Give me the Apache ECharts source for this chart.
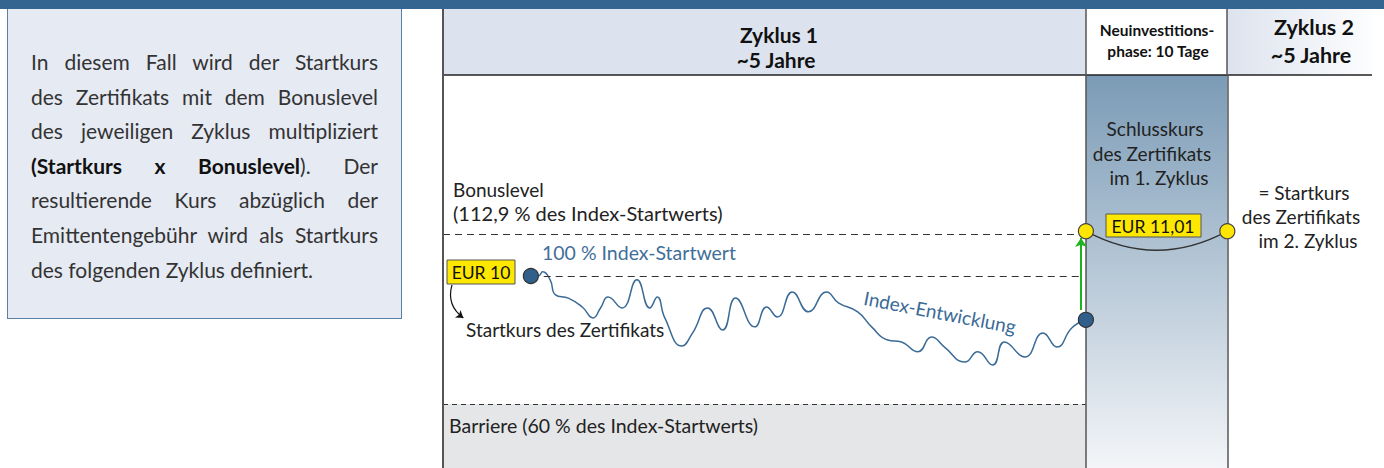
<!DOCTYPE html>
<html>
<head>
<meta charset="utf-8">
<script src="https://cdn.jsdelivr.net/npm/echarts@6/dist/echarts.min.js"></script>
<style>
  html, body { margin: 0; padding: 0; background: #fff; }
  #wrap { position: relative; width: 1384px; height: 468px; overflow: hidden; }
  #chart { position: absolute; left: 0; top: 0; width: 1384px; height: 468px; }
  #band { position: absolute; left: 0; top: 0; width: 1384px; height: 9px; background: #336590; z-index: 3; }
  #note {
    position: absolute; left: 7px; top: 9px; width: 395px; height: 310px;
    box-sizing: border-box; background: #e6eaf3;
    border: 1.5px solid #5b80a8; border-top: none;
    padding: 36px 23px 0 23px; z-index: 2;
    font-family: Lato, "Noto Sans", sans-serif; font-size: 21px; line-height: 34.6px; color: #333;
  }
  #note div { text-align: justify; text-align-last: justify; white-space: nowrap; }
  #note div.last { text-align-last: left; }
  #note b { font-weight: 700; color: #111; }
</style>
</head>
<body>
<div id="wrap">
  <div id="chart"></div>
  <div id="band"></div>
  <div id="note">
    <div>In diesem Fall wird der Startkurs</div>
    <div>des Zertifikats mit dem Bonuslevel</div>
    <div>des jeweiligen Zyklus multipliziert</div>
    <div><b>(Startkurs x Bonuslevel</b>). Der</div>
    <div>resultierende Kurs abzüglich der</div>
    <div>Emittentengebühr wird als Startkurs</div>
    <div class="last">des folgenden Zyklus definiert.</div>
  </div>
</div>
<script>
// x: Monate seit Start von Zyklus 1, y: % des Index-Startwerts
var phaseBounds = [0, 60, 73.2];          // Start Zyklus 1, Ende Zyklus 1, Ende Neuinvestitionsphase
var axisX = [0, 86.7];
var axisY = [40, 162.8];
var bonusLevel = 112.9;
var startLevel = 100;
var barrierLevel = 60;

var indexMonths = [8.2, 8.9, 9.3, 10.0, 10.5, 11.7, 13.0, 14.0, 14.7, 15.4, 16.7, 18.1, 19.3, 20.0, 20.7,
  22.3, 23.3, 24.7, 26.1, 27.3, 29.1, 30.2, 31.2, 32.6, 34.1, 35.8, 36.9, 38.7, 40.0, 41.5, 42.8,
  44.3, 45.6, 46.8, 48.7, 49.9, 51.3, 52.4, 54.3, 56.0, 57.3, 58.7, 60.0];
var indexValues = [100, 100, 101.3, 98.8, 94.1, 93.1, 90.3, 86.9, 90.0, 93.4, 90.0, 98.8, 90.0, 93.4, 86.9,
  78.1, 82.2, 90.0, 83.1, 93.1, 84.1, 90.3, 87.2, 95.0, 88.8, 95.0, 91.6, 88.8, 84.1, 80.0, 79.4,
  76.3, 80.9, 77.8, 73.1, 76.3, 72.2, 79.4, 74.7, 82.2, 77.8, 83.8, 86.3];

var indexDots = [[8.2, 100], [60, 86.3]];
var certDots = [[60, 114], [73.2, 114]];
var riseArrow = [[59.54, 89.4], [59.54, 111.9]];
var startArrow = [[0.84, 97.2], [1.9, 86.9]];

var FONT = 'Lato, "Noto Sans", sans-serif';

function txt(x, y, text, size, opts) {
  opts = opts || {};
  return {
    type: 'text', x: x, y: y, z: 20, rotation: opts.rot || 0,
    style: {
      text: text, fill: opts.color || '#222', fontSize: size, fontFamily: FONT,
      fontWeight: opts.bold ? 'bold' : 'normal',
      textAlign: opts.align || 'left', textVerticalAlign: 'middle'
    }
  };
}

var chart = echarts.init(document.getElementById('chart'), null, { renderer: 'svg' });

var option = {
  animation: false,
  grid: { left: 443, right: 12, top: 75, bottom: 0 },
  xAxis: { type: 'value', min: axisX[0], max: axisX[1], show: false },
  yAxis: { type: 'value', min: axisY[0], max: axisY[1], show: false },
  graphic: [
    { type: 'rect', shape: { x: 443, y: 9, width: 643, height: 66 }, style: { fill: '#dde3ee' }, z: 1 },
    { type: 'rect', shape: { x: 1227, y: 9, width: 145, height: 66 }, z: 1,
      style: { fill: new echarts.graphic.LinearGradient(0, 0, 1, 0, [
        { offset: 0, color: '#dde3ee' }, { offset: 1, color: '#fcfdfe' }]) } },
    { type: 'line', shape: { x1: 443, y1: 75, x2: 1372, y2: 75 }, style: { stroke: '#222', lineWidth: 1.5 }, z: 5 },
    { type: 'line', shape: { x1: 443, y1: 9, x2: 443, y2: 75 }, style: { stroke: '#555', lineWidth: 2 }, z: 5 },
    { type: 'line', shape: { x1: 1086, y1: 9, x2: 1086, y2: 75 }, style: { stroke: '#555', lineWidth: 1.5 }, z: 5 },
    { type: 'line', shape: { x1: 1227, y1: 9, x2: 1227, y2: 75 }, style: { stroke: '#555', lineWidth: 1.5 }, z: 5 },

    txt(779, 34, 'Zyklus 1', 21, { bold: true, align: 'center', color: '#111' }),
    txt(776, 59, '~5 Jahre', 21, { bold: true, align: 'center', color: '#111' }),
    txt(1157, 30, 'Neuinvestitions-', 15.5, { bold: true, align: 'center', color: '#111' }),
    txt(1158, 51, 'phase: 10 Tage', 15.5, { bold: true, align: 'center', color: '#111' }),
    txt(1314, 27, 'Zyklus 2', 21.5, { bold: true, align: 'center', color: '#111' }),
    txt(1311, 55, '~5 Jahre', 21.5, { bold: true, align: 'center', color: '#111' }),

    txt(1155, 128, 'Schlusskurs', 19, { align: 'center' }),
    txt(1152, 153, 'des Zertifikats', 19, { align: 'center' }),
    txt(1159, 177, 'im 1. Zyklus', 19, { align: 'center' }),
    txt(1304, 192, '= Startkurs', 19, { align: 'center' }),
    txt(1301, 216, 'des Zertifikats', 19, { align: 'center' }),
    txt(1308, 240, 'im 2. Zyklus', 19, { align: 'center' }),

    txt(453, 189, 'Bonuslevel', 19),
    txt(453, 213, '(112,9 % des Index-Startwerts)', 20),
    txt(542, 252, '100 % Index-Startwert', 19.5, { color: '#3f6f99' }),
    txt(466, 329, 'Startkurs des Zertifikats', 19),
    txt(940, 312, 'Index-Entwicklung', 19, { color: '#3a6a96', align: 'center', rot: -0.19 }),
    txt(449, 425, 'Barriere (60 % des Index-Startwerts)', 19.5),

    { type: 'rect', shape: { x: 447, y: 260, width: 68, height: 24 }, z: 18,
      style: { fill: '#ffe800', stroke: '#555', lineWidth: 1 } },
    txt(481, 272, 'EUR 10', 17.5, { align: 'center', color: '#111' }),
    { type: 'rect', shape: { x: 1106, y: 214, width: 95, height: 23 }, z: 18,
      style: { fill: '#ffe800', stroke: '#555', lineWidth: 1 } },
    txt(1153, 226, 'EUR 11,01', 17.5, { align: 'center', color: '#111' })
  ],
  series: [
    {
      name: 'Index-Entwicklung', type: 'line', z: 4,
      data: indexMonths.map(function (m, i) { return [m, indexValues[i]]; }),
      smooth: 0.5, symbol: 'none',
      lineStyle: { color: '#3a6a96', width: 1.5 },
      markArea: {
        silent: true,
        data: [
          [{ coord: [phaseBounds[0], axisY[0]], itemStyle: { color: '#e5e6e8' } }, { coord: [phaseBounds[1], barrierLevel] }],
          [{ coord: [phaseBounds[1], axisY[0]], itemStyle: { color: {
              type: 'linear', x: 0, y: 0, x2: 0, y2: 1,
              colorStops: [{ offset: 0, color: '#7b9bb6' }, { offset: 1, color: '#f3f5f8' }] } } },
           { coord: [phaseBounds[2], axisY[1]] }]
        ]
      },
      markLine: {
        silent: true, symbol: 'none', label: { show: false },
        data: [
          [{ coord: [phaseBounds[0], bonusLevel], lineStyle: { type: [7, 5], color: '#333', width: 1.2 } }, { coord: [59.5, bonusLevel] }],
          [{ coord: [9.4, startLevel], lineStyle: { type: [7, 5], color: '#333', width: 1.2 } }, { coord: [59.5, startLevel] }],
          [{ coord: [phaseBounds[0], barrierLevel], lineStyle: { type: [5, 4], color: '#333', width: 1.2 } }, { coord: [phaseBounds[1], barrierLevel] }],
          { xAxis: phaseBounds[0], lineStyle: { type: 'solid', color: '#555', width: 2 } },
          { xAxis: phaseBounds[1], lineStyle: { type: 'solid', color: '#555', width: 1.5 } },
          { xAxis: phaseBounds[2], lineStyle: { type: 'solid', color: '#555', width: 1.5 } }
        ]
      }
    },
    {
      name: 'Zertifikat', type: 'lines', coordinateSystem: 'cartesian2d', z: 6,
      symbol: 'none',
      lineStyle: { color: '#333', width: 1.3, opacity: 1, curveness: -0.27 },
      data: [{ coords: certDots }]
    },
    {
      type: 'lines', coordinateSystem: 'cartesian2d', z: 7,
      symbol: ['none', 'arrow'], symbolSize: 9,
      lineStyle: { color: '#1db31d', width: 2, opacity: 1 },
      data: [{ coords: riseArrow }]
    },
    {
      type: 'lines', coordinateSystem: 'cartesian2d', z: 7,
      symbol: ['none', 'arrow'], symbolSize: 7,
      lineStyle: { color: '#111', width: 1.2, opacity: 1, curveness: -0.35 },
      data: [{ coords: startArrow }]
    },
    {
      type: 'scatter', z: 8, symbolSize: 15, data: indexDots,
      itemStyle: { color: '#2f5f8a', borderColor: '#333', borderWidth: 1.2, opacity: 1 }
    },
    {
      type: 'scatter', z: 9, symbolSize: 15, data: certDots,
      itemStyle: { color: '#ffe600', borderColor: '#444', borderWidth: 1.2, opacity: 1 }
    }
  ]
};

chart.setOption(option);
</script>
</body>
</html>
